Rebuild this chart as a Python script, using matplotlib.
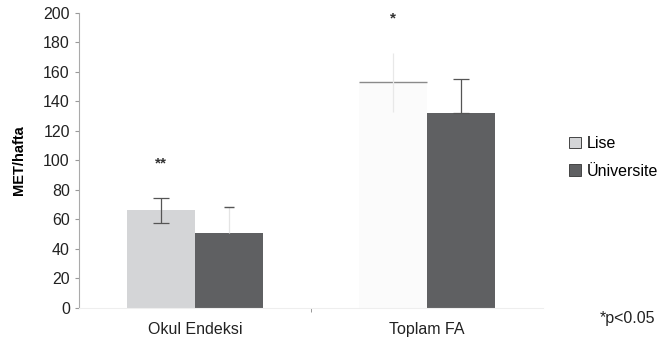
import numpy as np
import matplotlib.pyplot as plt

plt.rcParams["font.family"] = ["Liberation Sans", "DejaVu Sans"]

categories = ["Okul Endeksi", "Toplam FA"]
series = ["Lise", "Üniversite"]
lise = [66, 153]
lise_err = [8.5, 20]
universite = [51, 132]
universite_err = [17, 23]
yticks = list(range(0, 201, 20))

fig = plt.figure(figsize=(6.63, 3.52), dpi=100)
ax = fig.add_axes([0.119, 0.126, 0.70, 0.837])

x = np.arange(len(categories))
w = 0.293
lise_colors = ["#d4d5d7", "#fbfbfb"]
b1 = ax.bar(x - w / 2, lise, w, color=lise_colors, label=series[0])
# top line of the faint Toplam FA bar
ax.hlines(lise[1], x[1] - w, x[1], color="#8a8a8a", lw=1.0)
ax.bar(x + w / 2, universite, w, color="#5f6062", label=series[1])

# error bars
ax.errorbar(x[0] - w / 2, lise[0], yerr=lise_err[0], fmt="none",
            ecolor="#555555", elinewidth=0.9, capsize=6, capthick=0.9)
ax.errorbar(x[1] - w / 2, lise[1], yerr=lise_err[1], fmt="none",
            ecolor="#e8e8e8", elinewidth=0.9, capsize=0)
ax.errorbar(x[0] + w / 2, universite[0], yerr=[[0], [universite_err[0]]], fmt="none",
            ecolor="#e4e4e4", elinewidth=0.9, capsize=0)
ax.hlines(universite[0] + universite_err[0], x[0] + w / 2 - 0.02, x[0] + w / 2 + 0.02,
          color="#555555", lw=1.0)
ax.errorbar(x[1] + w / 2, universite[1], yerr=[[0], [universite_err[1]]], fmt="none",
            ecolor="#555555", elinewidth=0.9, capsize=6, capthick=0.9)

ax.text(x[0] - w / 2, 98, "**", ha="center", va="center", fontsize=11, fontweight="bold",
        color="#333333")
ax.text(x[1] - w / 2, 196, "*", ha="center", va="center", fontsize=11, fontweight="bold",
        color="#333333")

ax.set_xlim(-0.5, 1.5)
ax.set_ylim(0, 200)
ax.set_yticks(yticks)
ax.set_xticks(x)
ax.set_xticklabels(categories, fontsize=11.5, color="#222222")
ax.tick_params(axis="x", length=0, pad=10)
ax.tick_params(axis="y", length=3, color="#999999", labelsize=11.5, labelcolor="#222222")
ax.set_xticks([0.5], minor=True)
ax.tick_params(axis="x", which="minor", length=3, color="#888888", direction="out")
ax.set_ylabel("MET/hafta", fontsize=10.5, fontweight="bold", labelpad=12)

for s in ["top", "right"]:
    ax.spines[s].set_visible(False)
ax.spines["left"].set_color("#aaaaaa")
ax.spines["bottom"].set_color("#eeeeee")

leg = ax.legend(loc="center left", bbox_to_anchor=(1.025, 0.51), frameon=False,
                fontsize=11.5, handlelength=0.75, handleheight=0.75, handletextpad=0.35,
                labelspacing=0.8)
for h in leg.legend_handles:
    h.set_edgecolor("#444444")
    h.set_linewidth(0.7)

fig.text(0.988, 0.095, "*p<0.05", ha="right", va="center", fontsize=11.5, color="#222222")

fig.savefig("out.png", dpi=100)
